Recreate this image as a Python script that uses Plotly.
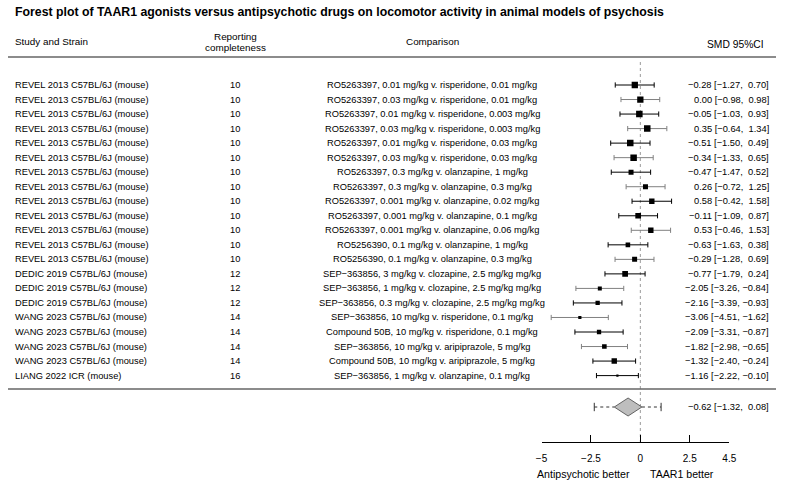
import plotly.graph_objects as go

# ---------------- data ----------------
study = [
    "REVEL 2013 C57BL/6J (mouse)", "REVEL 2013 C57BL/6J (mouse)", "REVEL 2013 C57BL/6J (mouse)",
    "REVEL 2013 C57BL/6J (mouse)", "REVEL 2013 C57BL/6J (mouse)", "REVEL 2013 C57BL/6J (mouse)",
    "REVEL 2013 C57BL/6J (mouse)", "REVEL 2013 C57BL/6J (mouse)", "REVEL 2013 C57BL/6J (mouse)",
    "REVEL 2013 C57BL/6J (mouse)", "REVEL 2013 C57BL/6J (mouse)", "REVEL 2013 C57BL/6J (mouse)",
    "REVEL 2013 C57BL/6J (mouse)",
    "DEDIC 2019 C57BL/6J (mouse)", "DEDIC 2019 C57BL/6J (mouse)", "DEDIC 2019 C57BL/6J (mouse)",
    "WANG 2023 C57BL/6J (mouse)", "WANG 2023 C57BL/6J (mouse)", "WANG 2023 C57BL/6J (mouse)",
    "WANG 2023 C57BL/6J (mouse)",
    "LIANG 2022 ICR (mouse)",
]
completeness = [10, 10, 10, 10, 10, 10, 10, 10, 10, 10, 10, 10, 10, 12, 12, 12, 14, 14, 14, 14, 16]
comparison = [
    "RO5263397, 0.01 mg/kg v. risperidone, 0.01 mg/kg",
    "RO5263397, 0.03 mg/kg v. risperidone, 0.01 mg/kg",
    "RO5263397, 0.01 mg/kg v. risperidone, 0.003 mg/kg",
    "RO5263397, 0.03 mg/kg v. risperidone, 0.003 mg/kg",
    "RO5263397, 0.01 mg/kg v. risperidone, 0.03 mg/kg",
    "RO5263397, 0.03 mg/kg v. risperidone, 0.03 mg/kg",
    "RO5263397, 0.3 mg/kg v. olanzapine, 1 mg/kg",
    "RO5263397, 0.3 mg/kg v. olanzapine, 0.3 mg/kg",
    "RO5263397, 0.001 mg/kg v. olanzapine, 0.02 mg/kg",
    "RO5263397, 0.001 mg/kg v. olanzapine, 0.1 mg/kg",
    "RO5263397, 0.001 mg/kg v. olanzapine, 0.06 mg/kg",
    "RO5256390, 0.1 mg/kg v. olanzapine, 1 mg/kg",
    "RO5256390, 0.1 mg/kg v. olanzapine, 0.3 mg/kg",
    "SEP\u2212363856, 3 mg/kg v. clozapine, 2.5 mg/kg mg/kg",
    "SEP\u2212363856, 1 mg/kg v. clozapine, 2.5 mg/kg mg/kg",
    "SEP\u2212363856, 0.3 mg/kg v. clozapine, 2.5 mg/kg mg/kg",
    "SEP\u2212363856, 10 mg/kg v. risperidone, 0.1 mg/kg",
    "Compound 50B, 10 mg/kg v. risperidone, 0.1 mg/kg",
    "SEP\u2212363856, 10 mg/kg v. aripiprazole, 5 mg/kg",
    "Compound 50B, 10 mg/kg v. aripiprazole, 5 mg/kg",
    "SEP\u2212363856, 1 mg/kg v. olanzapine, 0.1 mg/kg",
]
smd = [-0.28, 0.00, -0.05, 0.35, -0.51, -0.34, -0.47, 0.26, 0.58, -0.11, 0.53,
       -0.63, -0.29, -0.77, -2.05, -2.16, -3.06, -2.09, -1.82, -1.32, -1.16]
ci_lower = [-1.27, -0.98, -1.03, -0.64, -1.50, -1.33, -1.47, -0.72, -0.42, -1.09, -0.46,
            -1.63, -1.28, -1.79, -3.26, -3.39, -4.51, -3.31, -2.98, -2.40, -2.22]
ci_upper = [0.70, 0.98, 0.93, 1.34, 0.49, 0.65, 0.52, 1.25, 1.58, 0.87, 1.53,
            0.38, 0.69, 0.24, -0.84, -0.93, -1.62, -0.87, -0.65, -0.24, -0.10]
pooled_smd = -0.62
pooled_ci = [-1.32, 0.08]
pred_interval = [-2.33, 1.05]
tick_values = [-5, -2.5, 0, 2.5, 4.5]
tick_labels = ["\u22125", "\u22122.5", "0", "2.5", "4.5"]

# ---------------- styles ----------------
ci_color = ["#000000", "#808080", "#000000", "#808080", "#000000", "#808080", "#000000",
            "#808080", "#000000", "#000000", "#808080", "#000000", "#808080", "#000000",
            "#808080", "#000000", "#808080", "#000000", "#808080", "#000000", "#000000"]
square_px = [6.3, 6.3, 6.5, 6.5, 6.5, 6.5, 5.0, 5.0, 5.4, 5.7, 5.4,
             4.6, 5.0, 5.7, 4.0, 4.3, 3.2, 4.3, 4.6, 5.4, 2.2]

W, H = 785, 486
ROW0_PX, ROW_PX = 85.0, 14.53
FONT = "Liberation Sans, Arial, Helvetica, sans-serif"


def row_y(px):
    return 1 + (px - ROW0_PX) / ROW_PX


def fmt(v):
    return f"{v:.2f}".replace("-", "\u2212")


def fmt_ci(e, lo, hi):
    hs = fmt(hi)
    sep = ",\u00a0" + ("\u00a0" if hi >= 0 else "")
    return f"{fmt(e)} [{fmt(lo)}{sep}{hs}]"


n = len(smd)
rows = list(range(1, n + 1))
y_sum = row_y(407)
y_axis_px = 442

fig = go.Figure()

# zero reference line
fig.add_trace(go.Scatter(x=[0, 0], y=[row_y(62), row_y(y_axis_px)], mode="lines",
                         line=dict(color="#9a9a9a", width=1, dash="dot"),
                         hoverinfo="skip"))

# study CIs and squares
for i in range(n):
    fig.add_trace(go.Scatter(
        x=[smd[i]], y=[rows[i]], mode="markers",
        marker=dict(symbol="square", size=square_px[i], color="#000000", line=dict(width=0)),
        error_x=dict(type="data", symmetric=False,
                     array=[ci_upper[i] - smd[i]], arrayminus=[smd[i] - ci_lower[i]],
                     color=ci_color[i], thickness=1, width=2.6),
        hoverinfo="skip"))

# prediction interval (dashed) with end caps
fig.add_trace(go.Scatter(x=[pred_interval[0], pooled_ci[0]], y=[y_sum, y_sum], mode="lines",
                         line=dict(color="#333333", width=1, dash="3px,3px"), hoverinfo="skip"))
fig.add_trace(go.Scatter(x=[pooled_ci[1], pred_interval[1]], y=[y_sum, y_sum], mode="lines",
                         line=dict(color="#333333", width=1, dash="3px,3px"), hoverinfo="skip"))
fig.add_trace(go.Scatter(x=pred_interval, y=[y_sum, y_sum], mode="markers",
                         marker=dict(symbol="line-ns-open", size=6, color="#333333",
                                     line=dict(color="#333333", width=1)),
                         hoverinfo="skip"))

# pooled diamond
h = 9 / ROW_PX
fig.add_trace(go.Scatter(
    x=[pooled_ci[0], pooled_smd, pooled_ci[1], pooled_smd, pooled_ci[0]],
    y=[y_sum, y_sum - h, y_sum, y_sum + h, y_sum],
    mode="lines", fill="toself", fillcolor="#bebebe",
    line=dict(color="#444444", width=0.8), hoverinfo="skip"))

# separators
for ypx in (57, 389):
    fig.add_shape(type="line", xref="paper", yref="y", x0=8 / W, x1=776 / W,
                  y0=row_y(ypx), y1=row_y(ypx), line=dict(color="#666666", width=1.5))

ann = []


def add_text(text, xpx, y, anchor, size, yref="y", color="#000000"):
    ann.append(dict(text=text, x=xpx / W, xref="paper", y=y, yref=yref,
                    xanchor=anchor, yanchor="middle", showarrow=False,
                    font=dict(family=FONT, size=size, color=color)))


for i in range(n):
    add_text(study[i], 13, rows[i], "left", 9.3)
    add_text(str(completeness[i]), 235, rows[i], "center", 9.3)
    add_text(comparison[i], 432, rows[i], "center", 9.3)
    add_text(fmt_ci(smd[i], ci_lower[i], ci_upper[i]), 771, rows[i], "right", 9.3)

add_text(fmt_ci(pooled_smd, pooled_ci[0], pooled_ci[1]), 771, y_sum, "right", 9.3)

# headers and title
add_text("<b>Forest plot of TAAR1 agonists versus antipsychotic drugs on locomotor activity in animal models of psychosis</b>",
         13, 1 - 12 / H, "left", 12.3, yref="paper")
add_text("Study and Strain", 13, 1 - 41 / H, "left", 9.9, yref="paper")
add_text("Reporting", 235, 1 - 36 / H, "center", 9.9, yref="paper")
add_text("completeness", 235, 1 - 47 / H, "center", 9.9, yref="paper")
add_text("Comparison", 432, 1 - 42 / H, "center", 9.9, yref="paper")
add_text("SMD 95%CI", 735, 1 - 44 / H, "center", 10.3, yref="paper")
add_text("Antipsychotic better", 583.5, 1 - 474 / H, "center", 10.6, yref="paper")
add_text("TAAR1 better", 681.5, 1 - 474 / H, "center", 10.6, yref="paper")

fig.update_layout(
    width=W, height=H, margin=dict(l=0, r=0, t=0, b=0, autoexpand=False),
    paper_bgcolor="white", plot_bgcolor="white", showlegend=False,
    font=dict(family=FONT, color="#000000"),
    annotations=ann,
    xaxis=dict(domain=[541.5 / W, 729.3 / W], range=[-5, 4.5], anchor="free",
               position=1 - y_axis_px / H, showgrid=False, zeroline=False,
               showline=True, linecolor="#000000", linewidth=1,
               ticks="inside", ticklen=7, tickwidth=1, tickcolor="#000000",
               tickvals=tick_values, ticktext=tick_labels,
               tickfont=dict(family=FONT, size=10, color="#000000"),
               ticklabelstandoff=7, fixedrange=True),
    yaxis=dict(domain=[0, 1], range=[row_y(H), row_y(0)], visible=False,
               showgrid=False, zeroline=False, fixedrange=True),
)

fig.write_html("out.html", config={"responsive": False, "displayModeBar": False},
               post_script="document.body.style.margin='0px';")
